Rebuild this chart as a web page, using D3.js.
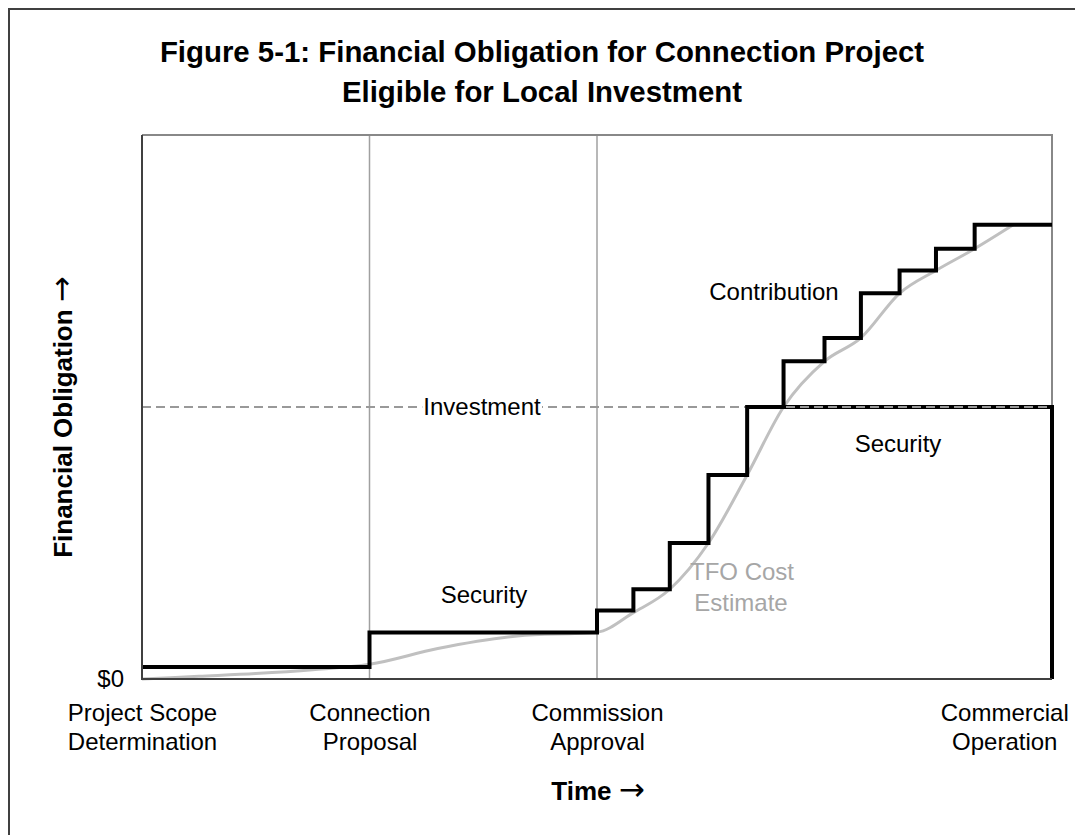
<!DOCTYPE html>
<html>
<head>
<meta charset="utf-8">
<script src="https://cdn.jsdelivr.net/npm/d3@7"></script>
<style>
  body { margin: 0; background: #fff; }
  svg { font-family: "Liberation Sans", Arial, sans-serif; }
</style>
</head>
<body>
<svg width="1075" height="835"></svg>
<script>
// milestones along the time axis
const milestones = [
  ["Project Scope", "Determination"],
  ["Connection", "Proposal"],
  ["Commission", "Approval"],
  ["Commercial", "Operation"]
];
const milestonePos = [0, 1, 2, 3.79];
const gridPos = [1, 2];

// contribution / security step line (step after)
const stepX = [0, 1, 2, 2.16, 2.32, 2.49, 2.66, 2.82, 3.0, 3.16, 3.33, 3.49, 3.66, 4];
const stepY = [2.2, 8.55, 12.6, 16.5, 25, 37.5, 50, 58.4, 62.7, 70.9, 75.1, 79.1, 83.5, 83.5];

// security held at the investment level until commercial operation
const securityX = [2.66, 4, 4];
const securityY = [50, 50, 0];

const investment = 50;

// TFO cost estimate curve
const tfoX = [0, 0.25, 0.5, 0.75, 1, 1.3, 1.65, 2, 2.16, 2.32, 2.49, 2.66, 2.82, 3.0, 3.16, 3.33, 3.49, 3.66, 3.83];
const tfoY = [0, 0.5, 1.0, 1.7, 2.7, 5.6, 7.9, 8.6, 12.2, 16.5, 25, 37.5, 50, 58.4, 62.7, 70.9, 75.1, 79.1, 83.5];

const svg = d3.select("svg");

const x = d3.scaleLinear().domain([0, 4]).range([142, 1052]);
const y = d3.scaleLinear().domain([0, 100]).range([679, 135]);

// outer border (top + left only)
svg.append("path")
  .attr("d", "M9,835V9H1075")
  .attr("fill", "none")
  .attr("stroke", "#404040")
  .attr("stroke-width", 2);

// title
const title = svg.append("text")
  .attr("text-anchor", "middle")
  .style("font-weight", "bold")
  .style("font-size", "29.4px");
title.append("tspan").attr("x", 542).attr("y", 62)
  .text("Figure 5-1: Financial Obligation for Connection Project");
title.append("tspan").attr("x", 542).attr("y", 102)
  .text("Eligible for Local Investment");

// vertical gridlines
svg.append("g")
  .selectAll("line")
  .data(gridPos)
  .join("line")
  .attr("x1", (d) => x(d))
  .attr("x2", (d) => x(d))
  .attr("y1", y.range()[1])
  .attr("y2", y.range()[0])
  .attr("stroke", "#a0a0a0")
  .attr("stroke-width", 1.5);

// plot frame: top/right light, left/bottom dark
svg.append("path")
  .attr("d", `M${x(0)},${y(100)}H${x(4)}V${y(0)}`)
  .attr("fill", "none")
  .attr("stroke", "#888")
  .attr("stroke-width", 2);

// TFO cost estimate
const tfoLine = d3.line()
  .x((d) => x(d[0]))
  .y((d) => y(d[1]))
  .curve(d3.curveMonotoneX);
svg.append("path")
  .datum(d3.zip(tfoX, tfoY))
  .attr("d", tfoLine)
  .attr("fill", "none")
  .attr("stroke", "#c0c0c0")
  .attr("stroke-width", 3);

// security tail
const plainLine = d3.line().x((d) => x(d[0])).y((d) => y(d[1]));
svg.append("path")
  .datum(d3.zip(securityX, securityY))
  .attr("d", plainLine)
  .attr("fill", "none")
  .attr("stroke", "#000")
  .attr("stroke-width", 4)
  .attr("stroke-linejoin", "miter");

// investment dashed line
svg.append("line")
  .attr("x1", x(0))
  .attr("x2", x(4))
  .attr("y1", y(investment))
  .attr("y2", y(investment))
  .attr("stroke", "#999")
  .attr("stroke-width", 2)
  .attr("stroke-dasharray", "9,5");

// contribution step line
const stepLine = d3.line()
  .x((d) => x(d[0]))
  .y((d) => y(d[1]))
  .curve(d3.curveStepAfter);
svg.append("path")
  .datum(d3.zip(stepX, stepY))
  .attr("d", stepLine)
  .attr("fill", "none")
  .attr("stroke", "#000")
  .attr("stroke-width", 4)
  .attr("stroke-linejoin", "miter");

// left/bottom axis lines
svg.append("path")
  .attr("d", `M${x(0)},${y(100)}V${y(0)}H${x(4)}`)
  .attr("fill", "none")
  .attr("stroke", "#404040")
  .attr("stroke-width", 2);

// x axis labels
const xAxis = svg.append("g")
  .attr("transform", `translate(0,${y(0)})`)
  .call(d3.axisBottom(x).tickValues(milestonePos).tickSize(0).tickFormat(""));
xAxis.select(".domain").remove();
xAxis.selectAll(".tick text")
  .each(function (d, i) {
    const t = d3.select(this).attr("dy", null).attr("y", null);
    milestones[i].forEach((line, k) => {
      t.append("tspan").attr("x", 0).attr("y", 42 + k * 29).text(line);
    });
  })
  .attr("fill", "#000")
  .style("font-size", "24px")
  .style("font-family", "'Liberation Sans', Arial, sans-serif");

// y axis label $0
const yAxis = svg.append("g")
  .attr("transform", `translate(${x(0)},0)`)
  .call(d3.axisLeft(y).tickValues([0]).tickSize(0).tickFormat(() => "$0"));
yAxis.select(".domain").remove();
yAxis.selectAll(".tick text")
  .attr("x", -18)
  .attr("fill", "#000")
  .style("font-size", "24px")
  .style("font-family", "'Liberation Sans', Arial, sans-serif");

// axis titles (arrow from DejaVu for a long glyph)
const yTitle = svg.append("text")
  .attr("transform", "translate(72,417) rotate(-90)")
  .attr("text-anchor", "middle")
  .style("font-weight", "bold")
  .style("font-size", "26px");
yTitle.append("tspan").text("Financial Obligation ");
yTitle.append("tspan")
  .style("font-family", "'DejaVu Sans'")
  .style("font-weight", "normal")
  .style("font-size", "31px")
  .text("\u2192");

const xTitle = svg.append("text")
  .attr("x", 598)
  .attr("y", 800)
  .attr("text-anchor", "middle")
  .style("font-weight", "bold")
  .style("font-size", "26px");
xTitle.append("tspan").text("Time ");
xTitle.append("tspan")
  .style("font-family", "'DejaVu Sans'")
  .style("font-weight", "normal")
  .style("font-size", "31px")
  .text("\u2192");

// annotations
const inv = svg.append("text")
  .attr("x", 482)
  .attr("y", y(investment) + 8)
  .attr("text-anchor", "middle")
  .style("font-size", "24px")
  .text("Investment");
const bb = inv.node().getBBox();
svg.insert("rect", () => inv.node())
  .attr("x", bb.x - 1)
  .attr("y", y(investment) - 4)
  .attr("width", bb.width + 2)
  .attr("height", 8)
  .attr("fill", "#fff");

svg.append("text")
  .attr("x", 774).attr("y", 300)
  .attr("text-anchor", "middle")
  .style("font-size", "24px")
  .text("Contribution");

svg.append("text")
  .attr("x", 484).attr("y", 603)
  .attr("text-anchor", "middle")
  .style("font-size", "24px")
  .text("Security");

svg.append("text")
  .attr("x", 898).attr("y", 452)
  .attr("text-anchor", "middle")
  .style("font-size", "24px")
  .text("Security");

const tfo = svg.append("text")
  .attr("text-anchor", "middle")
  .attr("fill", "#a6a6a6")
  .style("font-size", "24px");
tfo.append("tspan").attr("x", 742).attr("y", 580).text("TFO Cost");
tfo.append("tspan").attr("x", 741).attr("y", 611).text("Estimate");
</script>
</body>
</html>
